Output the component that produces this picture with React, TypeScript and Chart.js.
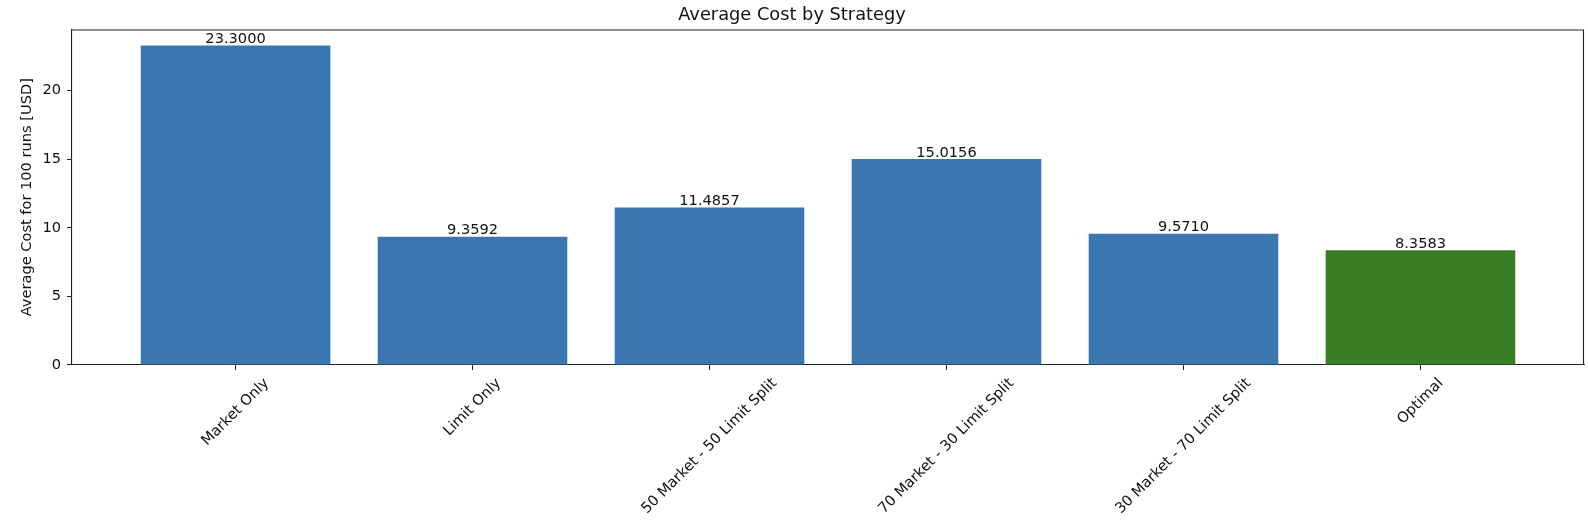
import React, { useEffect, useRef } from 'react';
import { Chart, registerables, Plugin } from 'chart.js';

Chart.register(...registerables);

const strategies = [
  'Market Only',
  'Limit Only',
  '50 Market - 50 Limit Split',
  '70 Market - 30 Limit Split',
  '30 Market - 70 Limit Split',
  'Optimal',
];
const avgCosts = [23.3, 9.3592, 11.4857, 15.0156, 9.571, 8.3583];
const barColors = ['#3a77b0', '#3a77b0', '#3a77b0', '#3a77b0', '#3a77b0', '#387c23'];
const yTicks = [0, 5, 10, 15, 20];

const FONT = "'DejaVu Sans', sans-serif";
const FS = 14.6;

// top/right spines, value labels over bars, matplotlib-style rotated x labels
const extras: Plugin<'bar'> = {
  id: 'extras',
  afterDraw(chart) {
    const { ctx, chartArea } = chart;
    ctx.save();
    ctx.strokeStyle = '#222';
    ctx.lineWidth = 1.1;
    ctx.beginPath();
    ctx.moveTo(chartArea.left, chartArea.top + 0.5);
    ctx.lineTo(chartArea.right - 0.5, chartArea.top + 0.5);
    ctx.lineTo(chartArea.right - 0.5, chartArea.bottom);
    ctx.stroke();

    ctx.fillStyle = '#111';
    ctx.font = `${FS}px ${FONT}`;
    ctx.textAlign = 'center';
    ctx.textBaseline = 'alphabetic';
    const meta = chart.getDatasetMeta(0);
    meta.data.forEach((bar, i) => {
      ctx.fillText(avgCosts[i].toFixed(4), bar.x, bar.y - 2.5);
    });

    const xScale = chart.scales.x;
    const y0 = chartArea.bottom + 10;
    const h = FS * 1.17;
    strategies.forEach((label, i) => {
      const w = ctx.measureText(label).width;
      const half = ((w + h) * Math.SQRT1_2) / 2;
      ctx.save();
      ctx.translate(xScale.getPixelForValue(i), y0 + half);
      ctx.rotate(-Math.PI / 4);
      ctx.textBaseline = 'middle';
      ctx.fillText(label, 0, 0);
      ctx.restore();
    });
    ctx.restore();
  },
};

const App: React.FC = () => {
  const chartRef = useRef<HTMLCanvasElement | null>(null);
  const chartInstance = useRef<Chart | null>(null);

  useEffect(() => {
    document.body.style.margin = '0';
    if (!chartRef.current) return;
    if (chartInstance.current) chartInstance.current.destroy();
    const ctx = chartRef.current.getContext('2d');
    if (!ctx) return;

    chartInstance.current = new Chart(ctx, {
      type: 'bar',
      data: {
        datasets: [
          {
            data: avgCosts.map((v, i) => ({ x: i, y: v })) as any,
            backgroundColor: barColors,
            borderWidth: 0,
            barPercentage: 0.8,
            categoryPercentage: 1.0,
          },
        ],
      },
      options: {
        animation: false,
        responsive: true,
        maintainAspectRatio: false,
        layout: { padding: { left: 0, right: 4, top: 0, bottom: 0 } },
        plugins: {
          legend: { display: false },
          tooltip: { enabled: false },
          title: {
            display: true,
            text: 'Average Cost by Strategy',
            color: '#111',
            font: { family: FONT, size: 17.8, weight: 'normal' },
            padding: { top: 4.3, bottom: 3.8 },
          },
        },
        scales: {
          x: {
            type: 'linear',
            min: -0.69,
            max: 5.69,
            offset: false,
            grid: {
              display: true,
              offset: false,
              drawOnChartArea: false,
              drawTicks: true,
              tickLength: 5,
              color: '#222',
            },
            border: { display: true, color: '#222', width: 1.1 },
            afterBuildTicks: (scale) => {
              scale.ticks = strategies.map((_, i) => ({ value: i }));
            },
            afterFit: (scale) => {
              scale.height = 167;
            },
            ticks: {
              autoSkip: false,
              maxRotation: 0,
              color: 'rgba(0,0,0,0)',
              callback: () => '',
            },
          },
          y: {
            min: 0,
            max: 24.465,
            grid: { display: true, drawOnChartArea: false, drawTicks: true, tickLength: 5, color: '#222' },
            border: { display: true, color: '#222', width: 1.1 },
            afterBuildTicks: (scale) => {
              scale.ticks = yTicks.map((v) => ({ value: v }));
            },
            afterFit: (scale) => {
              scale.width = 72;
            },
            ticks: {
              color: '#111',
              padding: 6,
              font: { family: FONT, size: FS },
            },
            title: {
              display: true,
              text: 'Average Cost for 100 runs [USD]',
              color: '#111',
              font: { family: FONT, size: FS },
              padding: { top: 18.2, bottom: 0 },
            },
          },
        },
      },
      plugins: [extras],
    });

    return () => {
      if (chartInstance.current) {
        chartInstance.current.destroy();
        chartInstance.current = null;
      }
    };
  }, []);

  return (
    <div style={{ position: 'relative', width: '1588px', height: '532px' }}>
      <canvas ref={chartRef}></canvas>
    </div>
  );
};

export default App;
